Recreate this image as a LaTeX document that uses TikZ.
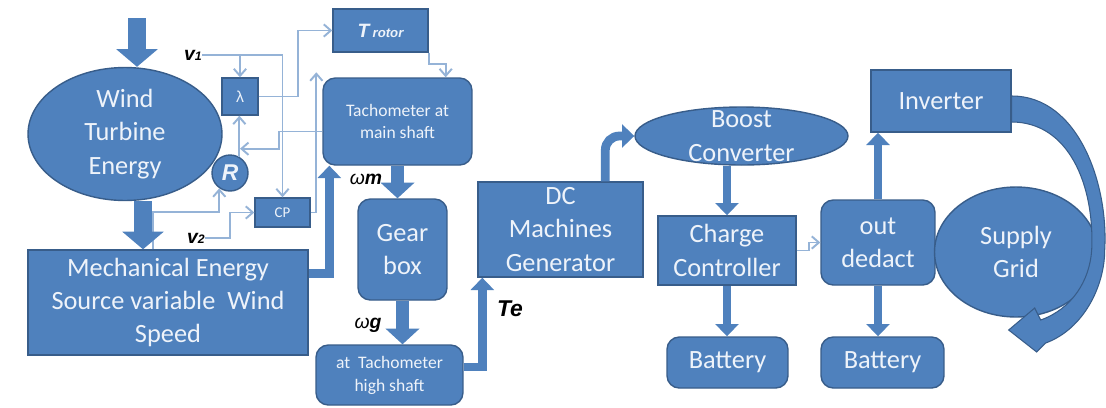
\documentclass[tikz,border=0pt]{standalone}
\usepackage{fontspec}
\setmainfont{Carlito}
\newfontfamily\tagfont{Liberation Sans}
\usepackage{tikz}
\usetikzlibrary{arrows.meta, positioning, shapes.geometric, calc}
\definecolor{boxblue}{HTML}{4F81BD}
\definecolor{edgeblue}{HTML}{385D8A}
\definecolor{wireblue}{HTML}{95B3D7}
\definecolor{paper}{HTML}{EEF3FA}

\begin{document}
\begin{tikzpicture}[
  x=0.02cm, y=-0.02cm,
  blk/.style={draw=edgeblue, fill=boxblue, line width=0.8pt, text=paper, align=center, inner sep=0pt, font=\fontsize{15}{19}\selectfont},
  rblk/.style={blk, rounded corners=7pt},
  smalltext/.style={font=\fontsize{10}{13}\selectfont},
  lbl/.style={font=\tagfont\bfseries\itshape\fontsize{11}{13}\selectfont, inner sep=0pt},
  wire/.style={draw=wireblue, line width=1.1pt, -{Straight Barb[length=4pt,width=7pt]}},
  fat/.style={draw=boxblue, line width=10.5pt, -{Triangle[length=10pt,width=23pt]}},
  pipe/.style={draw=boxblue, line width=7pt, -{Triangle[length=9pt,width=19pt]}},
  slim/.style={draw=boxblue, line width=5pt, -{Triangle[length=7pt,width=13pt]}}
]
  \fill[white] (0,0) rectangle (1106,407);
  \useasboundingbox (0,0) rectangle (1106,407);

  \node[blk, ellipse, minimum width=3.88cm, minimum height=2.66cm] (wind) at (125,134) {Wind\\Turbine\\Energy};
  \node[blk, minimum width=5.6cm, minimum height=2.1cm] (mech) at (168,302.5) {Mechanical Energy\\Source variable~ Wind\\Speed};
  \node[blk, minimum width=0.72cm, minimum height=0.74cm, font=\tagfont\fontsize{9}{11}\selectfont] (lam) at (240,96.5) {λ};
  \node[blk, circle, minimum size=0.72cm, font=\tagfont\bfseries\itshape\fontsize{13}{15}\selectfont] (R) at (230,173) {R};
  \node[blk, minimum width=1.1cm, minimum height=0.58cm, font=\fontsize{8.5}{10}\selectfont] (cp) at (282.5,212.5) {CP};
  \node[blk, minimum width=1.9cm, minimum height=0.86cm, font=\tagfont\bfseries\itshape\fontsize{11}{13}\selectfont] (trotor) at (380.5,30.5) {T\,\fontsize{7.5}{9}\selectfont rotor};
  \node[rblk, smalltext, minimum width=2.98cm, minimum height=1.74cm] (tachm) at (397.5,121.5) {Tachometer at\\main shaft};
  \node[rblk, minimum width=1.78cm, minimum height=2.02cm] (gear) at (402.5,249.5) {Gear\\box};
  \node[rblk, smalltext, minimum width=2.94cm, minimum height=1.2cm] (tachh) at (389.5,375) {at~ Tachometer\\high shaft};
  \node[blk, minimum width=3.3cm, minimum height=1.9cm] (dc) at (560.5,229.5) {DC\\Machines\\Generator};
  \node[blk, ellipse, minimum width=4.26cm, minimum height=1.16cm] (boost) at (741.5,136) {};
  \node[text=paper, align=center, inner sep=0pt, font=\fontsize{15}{19}\selectfont] (boosttext) at (boost) {Boost\\Converter};
  \node[blk, minimum width=2.76cm, minimum height=1.38cm] (cc) at (727,250.5) {Charge\\Controller};
  \node[rblk, minimum width=2.42cm, minimum height=1.02cm] (bat1) at (727.5,362.5) {Battery};
  \node[rblk, minimum width=2.28cm, minimum height=1.7cm] (outd) at (878,242.5) {out\\dedact};
  \node[rblk, minimum width=2.46cm, minimum height=1.02cm] (bat2) at (882.5,362.5) {Battery};
  \node[blk, minimum width=2.8cm, minimum height=1.24cm] (inv) at (941,101) {Inverter};
  \node[blk, ellipse, minimum width=3.26cm, minimum height=2.6cm] (grid) at (1016,252) {Supply\\Grid};

  \node[lbl] (v1) at (193,55) {v\fontsize{7}{8}\selectfont 1};
  \node[lbl] (v2) at (196,238) {v\fontsize{7}{8}\selectfont 2};
  \node[lbl] (wm) at (366,179) {{\mdseries ω}m};
  \node[lbl] (wg) at (368,325) {{\mdseries ω}g};
  \node[lbl, font=\tagfont\bfseries\itshape\fontsize{13}{15}\selectfont] (te) at (510,309) {Te};

  \draw[wire] (v1.east) -| (cp.north);
  \draw[wire] (v1.east -| lam.north) -- (lam.north);
  \draw[wire] (lam.east) -- ++(39,0) |- (trotor.west);
  \draw[wire] (trotor.south east) -- ++(0,11) -| ($(tachm.north east)+(-27,0)$);
  \draw[wire] ($(tachm.west)+(0,10)$) -- ++(-43,0) |- ($(lam.south)+(0,33)$);
  \draw[wire] (R.60) -- (R.60 |- lam.south);
  \draw[wire] ($(mech.north west)+(126,0)$) -- ++(0,-37) -| (R.235);
  \draw[wire] (v2.east) -- ++(25,0) |- (cp.west);
  \coordinate (cpup) at ($(tachm.north west)+(-6,-5)$);
  \draw[wire] (cp.east) -| (cpup);
  \draw[wire] (cc.east) -- ++(12,0) |- (outd.west);

  \coordinate (windin) at (137,18);
  \draw[fat] (windin) -- (windin |- wind.north);
  \coordinate (windout) at ($(wind.south)+(18,0)$);
  \draw[fat] (windout) -- (windout |- mech.north);
  \draw[slim] ($(mech.east)+(0,-29)$) -| ($(tachm.south west)+(7,0)$);
  \draw[pipe] (tachm.south) -- (tachm.south |- gear.north);
  \draw[pipe] (gear.south) -- (gear.south |- tachh.north);
  \draw[slim] ($(tachh.east)+(0,-8)$) -| ($(dc.south west)+(5,0)$);
  \draw[slim, rounded corners=8pt] ($(dc.north west)+(128,0)$) |- (boost.west);
  \draw[slim] (cc.north |- boost.south) -- (cc.north);
  \draw[slim] (cc.south) -- (cc.south |- bat1.north);
  \draw[slim] (outd.south) -- (outd.south |- bat2.north);
  \draw[slim] (outd.north) -- (outd.north |- inv.south);
  \fill[boxblue, draw=edgeblue, line width=0.6pt, shift={(inv.east)}] (0,-5) .. controls (67,-5) and (97,84) .. (93,149) .. controls (93,185) and (72,228) .. (34,242) -- (25,251) -- (-3,229) -- (23,207) -- (29,219) .. controls (60,208) and (78,180) .. (80,149) .. controls (83,84) and (57,21) .. (0,21) -- cycle;
\end{tikzpicture}
\end{document}
